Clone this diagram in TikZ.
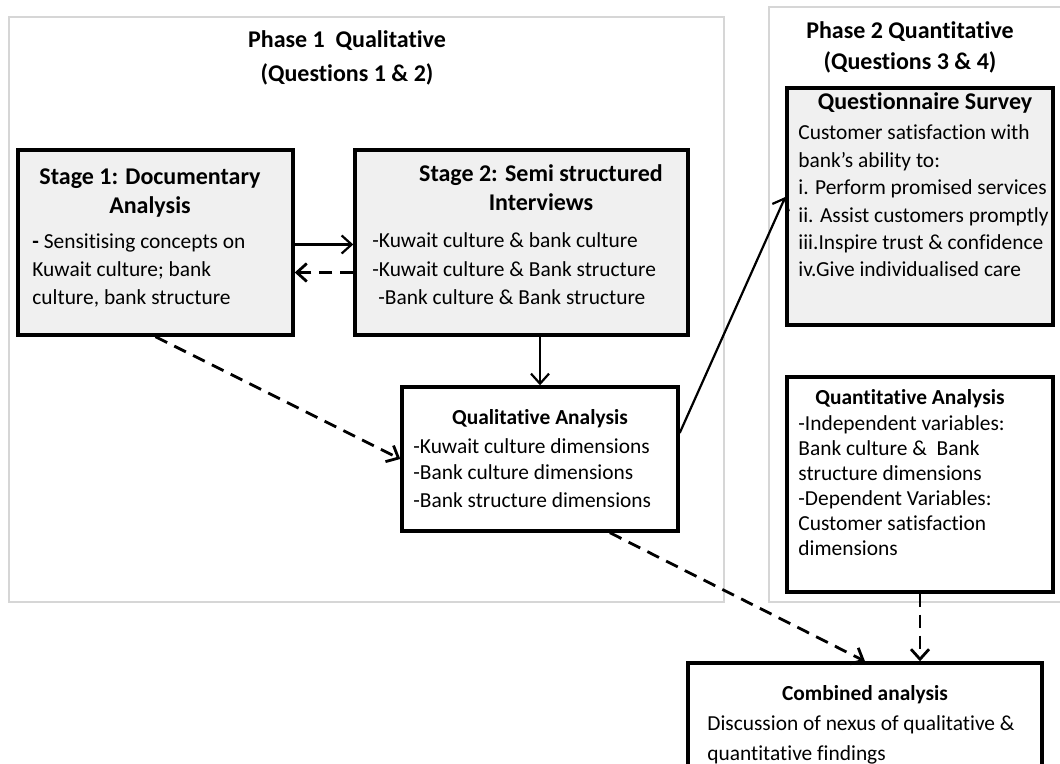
\documentclass[tikz,border=0pt]{standalone}
\usepackage{fontspec}
\setmainfont{Carlito}[Ligatures=NoCommon]
\usepackage{tikz}
\usetikzlibrary{arrows.meta, positioning, calc}
\definecolor{cPanel}{RGB}{214,214,214}
\definecolor{cShade}{RGB}{240,240,240}
\tikzset{
    phasepanel/.style={draw=cPanel, line width=0.8pt},
    stagebox/.style={rectangle, draw=black, line width=1.7pt, fill=cShade},
    plainbox/.style={rectangle, draw=black, line width=1.7pt, fill=white},
    flowarrow/.style={-{Straight Barb[length=5pt, width=9pt]}, line width=1.1pt},
    backarrow/.style={flowarrow, line width=1.4pt, dash pattern=on 6.5pt off 4pt},
}

\begin{document}
\begin{tikzpicture}[x=0.5pt, y=-0.5pt, every node/.style={inner sep=0pt},
        phasetitle/.style={font=\fontsize{12}{17}\selectfont\bfseries, align=center},
        boxhead/.style={font=\fontsize{12}{14.5}\selectfont\bfseries, align=center},
        smallhead/.style={font=\fontsize{10.7}{13}\selectfont\bfseries},
        boxtext/.style={font=\fontsize{10.7}{14}\selectfont, align=left}]
    \useasboundingbox (0,0) rectangle (1060,764);
    % phase panels (base anchor of a multi-line node = its last line)
    \draw[phasepanel] (9,17) rectangle (724,602);
    \draw[phasepanel] (769,7) rectangle (1070,602);
    \node[phasetitle, anchor=base] (p1title) at (347,82) {Phase 1~~Qualitative\\(Questions 1 \& 2)};
    \node[phasetitle, anchor=base, font=\fontsize{12}{15.5}\selectfont\bfseries] (p2title) at (910,70)
        {Phase 2 Quantitative\\(Questions 3 \& 4)};
    % boxes
    \node[stagebox, minimum width=137.5pt, minimum height=92.5pt] (s1) at (155.5,242.5) {};
    \node[stagebox, minimum width=166.5pt, minimum height=92.5pt] (s2) at (521.5,242.5) {};
    \node[plainbox, minimum width=138pt, minimum height=72pt] (qa) at (540,459) {};
    \node[stagebox, minimum width=133pt, minimum height=118.5pt] (qs) at (920,206.5) {};
    \node[plainbox, minimum width=133pt, minimum height=107.5pt] (qn) at (920,484.5) {};
    \node[plainbox, minimum width=177pt, minimum height=63.5pt] (cb) at (865,726.5) {};
    % texts
    \node[boxhead, anchor=base] (s1head) at (150,214) {Stage 1: Documentary\\Analysis};
    \node[boxtext, anchor=base west] (s1text) at (32,305)
        {\textbf{-} Sensitising concepts on\\Kuwait culture; bank\\culture, bank structure};
    \node[boxhead, anchor=base] (s2head) at (541,211) {Stage 2: Semi structured\\Interviews};
    \node[boxtext, anchor=base west, font=\fontsize{10.7}{14.25}\selectfont] (s2text) at (372,305)
        {-Kuwait culture \& bank culture\\-Kuwait culture \& Bank structure\\\hspace*{3pt}-Bank culture \& Bank structure};
    \node[smallhead, anchor=base] (qahead) at (540,425) {Qualitative Analysis};
    \node[boxtext, anchor=base west, font=\fontsize{10.7}{13.5}\selectfont] (qatext) at (413,507)
        {-Kuwait culture dimensions\\-Bank culture dimensions\\-Bank structure dimensions};
    \node[boxhead, anchor=base] (qshead) at (925,110) {Questionnaire Survey};
    \node[boxtext, anchor=base west, font=\fontsize{10.7}{13.7}\selectfont] (qstext) at (798,277)
        {Customer satisfaction with\\bank's ability to:\\i. Perform promised services\\ii. Assist customers promptly\\iii.Inspire trust \& confidence\\iv.Give individualised care};
    \node[smallhead, anchor=base west] (qnhead) at (815,405) {Quantitative Analysis};
    \node[boxtext, anchor=base west, font=\fontsize{10.7}{12.5}\selectfont] (qntext) at (798,555)
        {-Independent variables:\\Bank culture \&\ \ Bank\\structure dimensions\\-Dependent Variables:\\Customer satisfaction\\dimensions};
    \node[smallhead, anchor=base] (cbhead) at (865,700) {Combined analysis};
    \node[boxtext, anchor=base west, font=\fontsize{10.7}{15}\selectfont] (cbtext) at (707,760)
        {Discussion of nexus of qualitative \&\\quantitative findings};
    % connectors
    \draw[flowarrow] ($(s1.east)+(0,2)$) -- ($(s1.east -| s2.west)+(0,2)$);
    \draw[backarrow] ($(s2.west)+(0,30)$) -- ($(s2.west -| s1.east)+(0,30)$);
    \draw[flowarrow] (qa.north |- s2.south) -- (qa.north);
    \draw[backarrow] (s1.south) -- (qa.west);
    \draw[flowarrow] ($(qa.east)+(0,-26)$) -- ($(qs.west)+(0,-9.5)$);
    \draw[backarrow] ($(qa.south)!0.5!(qa.south east)$) -- (cb.north);
    \draw[backarrow] (qn.south) -- (qn.south |- cb.north);
\end{tikzpicture}
\end{document}
